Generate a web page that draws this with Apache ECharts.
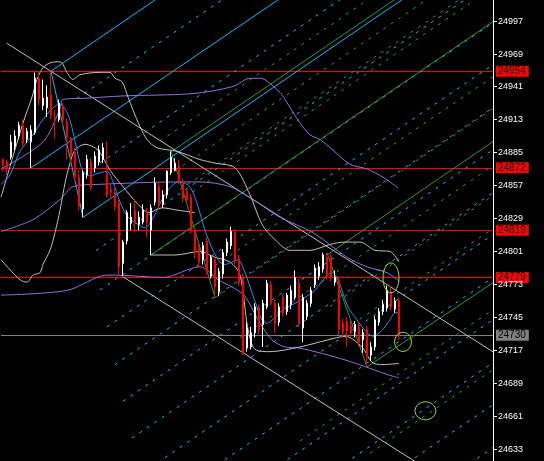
<!DOCTYPE html>
<html><head><meta charset="utf-8">
<script src="https://cdn.jsdelivr.net/npm/echarts/dist/echarts.min.js"></script>
<style>html,body{margin:0;padding:0;background:#000;}#c{width:544px;height:461px;}</style>
</head><body><div id="c"></div>
<script>
// ---- data ----
const SLOTS = 123;               // bar slots across plot width
const Y_MIN = 24623.2, Y_MAX = 25014.4;
const tickValues = [24633,24661,24689,24717,24745,24773,24801,24829,24857,24885,24913,24941,24969,24997];
const tickLabels = ['24633','24661','24689','24717','24745','24773','24801','24829','24857','24885','24913','24941','24969','24997'];
// [open, close, low, high]
const candles = [
[24879,24874,24869,24880],[24877,24872,24866,24879],[24881,24894,24879,24900],[24890,24899,24887,24904],
[24899,24908,24896,24911],[24908,24893,24890,24913],[24896,24903,24893,24906],[24894,24904,24872,24908],
[24902,24948,24900,24953],[24948,24930,24925,24954],[24925,24931,24921,24947],[24923,24932,24915,24942],
[24934,24917,24913,24954],[24915,24913,24897,24921],[24913,24927,24911,24930],[24924,24913,24908,24927],
[24911,24898,24879,24914],[24897,24883,24875,24898],[24885,24864,24862,24889],[24864,24839,24836,24870],
[24837,24868,24830,24870],[24866,24879,24863,24883],[24877,24855,24853,24880],[24872,24882,24868,24886],
[24877,24887,24874,24891],[24879,24889,24876,24893],[24869,24849,24847,24894],[24853,24851,24847,24858],
[24851,24839,24836,24855],[24842,24788,24781,24845],[24791,24809,24780,24811],[24810,24834,24807,24836],
[24825,24830,24819,24842],[24836,24826,24817,24845],[24824,24830,24819,24835],[24826,24836,24824,24841],
[24835,24826,24813,24838],[24819,24838,24798,24841],[24843,24859,24840,24864],[24856,24841,24836,24860],
[24841,24849,24838,24853],[24849,24869,24846,24870],[24868,24881,24866,24886],[24870,24876,24869,24880],
[24874,24860,24858,24879],[24860,24846,24843,24863],[24852,24845,24842,24855],[24847,24819,24816,24850],
[24818,24800,24795,24822],[24804,24792,24787,24808],[24794,24806,24790,24809],[24810,24783,24781,24813],
[24780,24796,24778,24798],[24794,24771,24762,24797],[24767,24784,24763,24787],[24782,24800,24778,24803],
[24800,24809,24797,24812],[24806,24818,24803,24822],[24817,24794,24790,24820],[24795,24775,24772,24798],
[24779,24715,24713,24782],[24719,24736,24716,24741],[24720,24732,24718,24737],[24732,24754,24728,24757],
[24753,24735,24731,24756],[24739,24757,24720,24760],[24754,24774,24752,24777],[24773,24757,24755,24776],
[24757,24740,24732,24760],[24741,24754,24738,24757],[24762,24749,24746,24765],[24750,24764,24747,24766],
[24756,24768,24752,24772],[24762,24779,24760,24785],[24774,24740,24737,24778],[24736,24762,24724,24765],
[24746,24757,24743,24760],[24757,24768,24754,24771],[24773,24787,24770,24790],[24780,24788,24777,24792],
[24786,24798,24783,24800],[24796,24780,24777,24800],[24797,24779,24776,24799],[24775,24779,24772,24785],
[24777,24735,24732,24780],[24740,24733,24728,24744],[24741,24733,24720,24745],[24738,24732,24728,24742],
[24733,24739,24728,24742],[24737,24724,24720,24742],[24726,24732,24715,24735],[24735,24712,24703,24738],
[24713,24720,24708,24724],[24720,24743,24717,24746],[24741,24750,24738,24753],[24750,24756,24747,24760],
[24753,24768,24750,24772],[24766,24754,24751,24772],[24752,24759,24749,24762],[24759,24730,24726,24762]
];
// indicator lines: [barIndex, price]
const blueMA = [[-0.5,24858],[1.75,24866],[4.25,24886],[7.25,24899],[10,24913],[12.5,24923],[14.25,24926],[16,24919],
[17.25,24906],[18.75,24883],[20,24869],[21.75,24865],[23.5,24867],[26,24869],[27.5,24860],[29.25,24843],[31.25,24830],
[33.75,24824],[35.5,24821],[37.25,24828],[38.5,24836],[39.75,24845],[41.25,24853],[43,24859],[44.25,24860],[46,24858],
[47.25,24853],[48.75,24839],[50.5,24819],[52.5,24802],[54.25,24792],[55.5,24790],[57.25,24792],[58.75,24794],
[60.5,24783],[62.25,24766],[63.5,24754],[64.75,24743],[66,24740],[68,24745],[69.75,24751],[71.25,24754],[73,24757],
[75.5,24762],[78,24768],[80.5,24779],[82.25,24783],[83.5,24779],[84.75,24768],[86.25,24754],[88.5,24743],[90.5,24734],
[92.5,24729],[94.75,24734],[96.75,24743],[98,24749],[99,24749]];
const grayUpper = [[-0.5,24847],[1.75,24873],[5,24910],[7.25,24932],[8.5,24947],[10,24957],[11.75,24961],[13.75,24962],
[14.75,24961],[16,24953],[17.5,24947],[19.25,24951],[24.25,24953],[26.75,24953],[28,24948],[29.75,24945],[31.25,24932],
[32.5,24921],[34.25,24907],[36,24896],[38.5,24889],[43.5,24886],[49.25,24879],[53,24876],[58,24872],[61.75,24849],
[64.75,24824],[68,24811],[71.75,24802],[76.75,24802],[81.75,24807],[85.5,24809],[89.25,24809],[93,24802],[96.75,24801],[99,24792]];
const grayLowerA = [[-0.5,24794],[4.25,24777],[6,24775],[7.5,24781],[9.25,24783],[10,24790],[11.75,24802],[13,24817],
[14.25,24836],[15.5,24859],[16.75,24876],[18,24887],[20.5,24892],[23.75,24887],[26.75,24870],[30,24856],[33.5,24842],
[36.5,24834],[39.75,24838],[43.75,24836],[48,24834]];
const grayLowerB = [[36.75,24798],[43,24798],[49.25,24801],[53,24796],[56.75,24792],[59.25,24781],[61.25,24735],[63,24718],
[66.75,24716],[74.25,24720],[81.25,24726],[85.5,24729],[89.75,24720],[92.25,24707],[94.75,24705],[99,24706]];
const purpleUpper = [[-0.5,24871],[10,24894],[14.25,24922],[15,24930],[20.5,24931],[30,24933],[47.5,24935],[57.5,24941],
[61.75,24948],[64.25,24948],[69.25,24936],[70.5,24930],[74.25,24910],[76.75,24900],[79.25,24896],[82.5,24887],
[86.75,24875],[91,24871],[95,24864],[98.75,24855]];
const purpleMid = [[-0.5,24818],[7.5,24828],[14.25,24845],[17.5,24856],[24.25,24858],[44.25,24860],[49.25,24860],
[56.75,24856],[62.5,24845],[69.25,24830],[77.5,24817],[86,24796],[91,24788],[96,24783],[99,24776]];
const purpleLower = [[-0.5,24764],[16,24768],[24.25,24780],[27.5,24781],[40,24779],[49.25,24788],[53.75,24777],
[57.25,24771],[60.5,24763],[63.75,24743],[67.25,24726],[70.5,24720],[74.25,24719],[85.5,24709],[97.5,24695],[99,24694]];
// straight drawn lines: [startBar, startPrice, endBar, endPrice]
const grayTrend = [[0.9,24977.8,122.5,24715.8],[30,24779.5,122.5,24581]];
const cyanSolid = [[12,24954,122.5,25210.7],[7,24872,122.5,25138.5],[20,24830,122.5,25067.3]];
const cyanDash = [[18.5,24930.8,122.5,25170.8],[24.25,24876.2,122.5,25102.9],[23.25,24801.8,122.5,25030.8],
[24.25,24768.4,122.5,24995.2],[26,24737,122.5,24959.5],[28,24705,122.5,24923],[30,24673.9,122.5,24887.4],
[32.25,24642.7,122.5,24850.9],[36.75,24617.4,122.5,24815.3],[51.75,24615.7,122.5,24778.8],[69.25,24620,122.5,24743.1],
[81.75,24612.6,122.5,24706.7],[99.25,24617.4,122.5,24671],[109.25,24604,122.5,24634.5]];
const greenSolid = [[42,24885.5,122.5,25071.5],[37,24798.1,122.5,24996],[81,24798.1,122.5,24894.2],[91,24703.1,122.5,24774.5]];
const greenDash = [[39.25,24894.7,122.5,25086.8],[43,24869.4,122.5,25052.9],[44.25,24853.6,122.5,25034.2],
[45.5,24847.2,122.5,25024.9],[53,24761.6,122.5,24922.2],[53,24789,122.5,24949.3],[59.25,24727.9,122.5,24873.8],
[74.25,24640.3,122.5,24751.6],[81.75,24754.3,122.5,24848.4],[81.75,24726.3,122.5,24820.4],[91.75,24629.8,122.5,24700.7]];
const zigCyan = [[12,24954,20,24830]];
const zigGreen = [[42,24886,53,24762],[81,24800,91,24703]];
const redLevels = [24954,24872,24819,24779];
const grayLevels = [24730];
// ellipse marks: [centerBar, centerPrice, halfWidthBars, halfHeightPrice]
const ellipses = [[97,24778.6,2,12.7],[100,24724.3,2.1,8.1],[105.6,24665.8,2.6,7.6]];

// ---- colors ----
const C_RED='#ff0000', C_CYAN='#00bfff', C_BLUE='#1e90ff', C_PURPLE='#9370db', C_SILVER='#c0c0c0', C_GREEN='#2e9a2e', C_ELL='#a6e22e';
const RIGHT_EDGE = SLOTS - 0.5;

const cats = []; for (let i=0;i<SLOTS;i++) cats.push(String(i));
const series = [];
function seg(arr, color, dash, z){
  arr.forEach(s=>series.push({type:'line', xAxisIndex:1, yAxisIndex:0, data:[[s[0],s[1]],[s[2],s[3]]],
    symbol:'none', silent:true, z:z||1, lineStyle:{color:color, width:1, type: dash?[3,6]:'solid'}}));
}
function curve(arr, color, z){
  series.push({type:'line', xAxisIndex:1, yAxisIndex:0, data:arr, symbol:'none', silent:true, smooth:0.3, z:z||2,
    lineStyle:{color:color, width:1}});
}
seg(greenDash, C_GREEN, true, 1);
seg(cyanDash, C_CYAN, true, 1);
seg(greenSolid, C_GREEN, false, 1);
seg(cyanSolid, C_CYAN, false, 1);
seg(grayTrend, C_SILVER, false, 1);
seg(zigGreen, C_GREEN, false, 2);
seg(zigCyan, C_CYAN, false, 2);
curve(purpleUpper, C_PURPLE); curve(purpleMid, C_PURPLE); curve(purpleLower, C_PURPLE);
curve(grayUpper, C_SILVER); curve(grayLowerA, C_SILVER); curve(grayLowerB, C_SILVER);
curve(blueMA, C_BLUE, 3);

const lvlLabel = (bg)=>({show:true, position:'end', distance:3, formatter:'{c}', color:'#000', backgroundColor:bg,
   fontSize:10, fontFamily:'Liberation Sans', padding:[1,3,0,2]});
const mlData = redLevels.map(v=>({yAxis:v, lineStyle:{color:C_RED,width:1,type:'solid'}, label:lvlLabel(C_RED)}))
  .concat(grayLevels.map(v=>({yAxis:v, lineStyle:{color:'#808080',width:1,type:'solid'}, label:lvlLabel('#808080')})));

series.push({type:'candlestick', xAxisIndex:0, yAxisIndex:0, data:candles, barWidth:2, z:5,
  itemStyle:{color:'#ffffff', color0:C_RED, borderColor:'#ffffff', borderColor0:C_RED, borderWidth:1},
  markLine:{symbol:'none', silent:true, z:0, data:mlData, animation:false}});

series.push({type:'custom', xAxisIndex:1, yAxisIndex:0, data:ellipses, z:10, silent:true,
  renderItem:function(params, api){
    const c = api.coord([api.value(0), api.value(1)]);
    const s = api.size([api.value(2), api.value(3)]);
    return {type:'ellipse', shape:{cx:c[0], cy:c[1], rx:s[0], ry:s[1]}, style:{fill:null, stroke:C_ELL, lineWidth:1}};
  }});

// price scale ticks + labels on the right of the plot
series.push({type:'custom', xAxisIndex:1, yAxisIndex:0, data:tickValues.map(v=>[RIGHT_EDGE, v]), z:8, silent:true, clip:false,
  renderItem:function(params, api){
    const p = api.coord([api.value(0), api.value(1)]);
    const y = Math.round(p[1]) + 0.5, x = Math.round(p[0]);
    return {type:'group', children:[
      {type:'line', shape:{x1:x, y1:y, x2:x+4, y2:y}, style:{stroke:'#ffffff', lineWidth:1}},
      {type:'text', style:{text:tickLabels[params.dataIndex], x:x+5, y:y, align:'left', verticalAlign:'middle',
        fill:'#ffffff', font:'9px "Liberation Sans"'}}
    ]};
  }});

const option = {
  backgroundColor:'#000', animation:false,
  grid:{left:1,right:51,top:0,bottom:0},
  xAxis:[
    {type:'category', data:cats, show:false, boundaryGap:true},
    {type:'value', min:-0.5, max:RIGHT_EDGE, show:false}
  ],
  yAxis:[
    {type:'value', min:Y_MIN, max:Y_MAX, position:'right',
     axisLine:{show:true, onZero:false, lineStyle:{color:'#ffffff'}}, axisTick:{show:false}, axisLabel:{show:false}, splitLine:{show:false}}
  ],
  series:series
};
const chart = echarts.init(document.getElementById('c'));
chart.setOption(option);
</script></body></html>
